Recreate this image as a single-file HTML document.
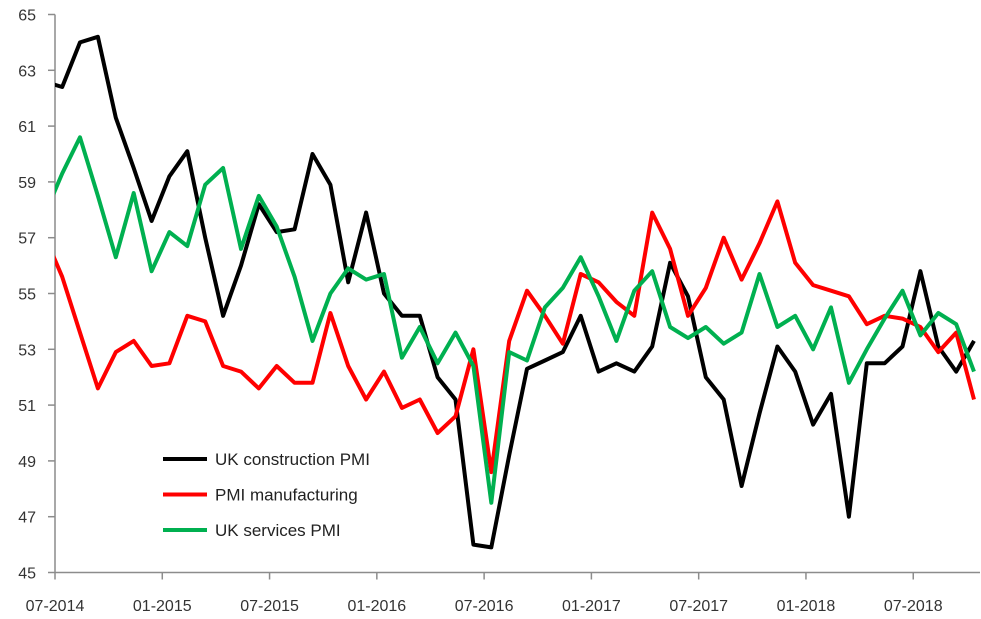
<!DOCTYPE html>
<html><head><meta charset="utf-8"><style>
html,body{margin:0;padding:0;background:#fff;}
svg{display:block;font-family:"Liberation Sans",sans-serif;}
</style></head><body>
<svg id="chart" width="981" height="619" viewBox="0 0 981 619" xmlns="http://www.w3.org/2000/svg">
<defs><clipPath id="plotclip"><rect x="55" y="0" width="926" height="619"/></clipPath></defs>
<g id="axes"></g>
<g id="series" clip-path="url(#plotclip)"></g>
<g id="legend"></g>
</svg>
<script>
// month index 0 = Jul-2014 (index -1 = Jun-2014)
const startMonth = -1;
const construction = [62.6,62.4,64.0,64.2,61.3,59.5,57.6,59.2,60.1,57.0,54.2,56.0,58.2,57.2,57.3,60.0,58.9,55.4,57.9,55.0,54.2,54.2,52.0,51.2,46.0,45.9,49.2,52.3,52.6,52.9,54.2,52.2,52.5,52.2,53.1,56.1,54.9,52.0,51.2,48.1,50.7,53.1,52.2,50.3,51.4,47.0,52.5,52.5,53.1,55.8,53.1,52.2,53.3];
const manufacturing = [57.1,55.6,53.6,51.6,52.9,53.3,52.4,52.5,54.2,54.0,52.4,52.2,51.6,52.4,51.8,51.8,54.3,52.4,51.2,52.2,50.9,51.2,50.0,50.6,53.0,48.6,53.3,55.1,54.2,53.2,55.7,55.4,54.7,54.2,57.9,56.6,54.2,55.2,57.0,55.5,56.8,58.3,56.1,55.3,55.1,54.9,53.9,54.2,54.1,53.8,52.9,53.6,51.2];
const services = [57.8,59.3,60.6,58.5,56.3,58.6,55.8,57.2,56.7,58.9,59.5,56.6,58.5,57.4,55.6,53.3,55.0,55.9,55.5,55.7,52.7,53.8,52.5,53.6,52.4,47.5,52.9,52.6,54.5,55.2,56.3,54.9,53.3,55.1,55.8,53.8,53.4,53.8,53.2,53.6,55.7,53.8,54.2,53.0,54.5,51.8,53.0,54.1,55.1,53.5,54.3,53.9,52.2];
const yTicks = [45,47,49,51,53,55,57,59,61,63,65];
const xTickMonths = [0,6,12,18,24,30,36,42,48];
const xTickLabels = ["07-2014","01-2015","07-2015","01-2016","07-2016","01-2017","07-2017","01-2018","07-2018"];
const seriesNames = ["UK construction PMI","PMI manufacturing","UK services PMI"];
const seriesColors = ["#000000","#ff0000","#00b050"];

const NS="http://www.w3.org/2000/svg";
const X0=55, MW=17.88, Y0=572.5, YU=27.9;
function xMonthStart(m){return X0+MW*m;}
function xPoint(m){return X0+MW*(m+0.4);}
function yVal(v){return Y0-(v-45)*YU;}
function mk(tag,attrs,parent){const e=document.createElementNS(NS,tag);for(const k in attrs)e.setAttribute(k,attrs[k]);parent.appendChild(e);return e;}

const axes=document.getElementById('axes');
const ya=mk('line',{x1:X0,y1:yVal(45),x2:X0,y2:yVal(65),stroke:'#8c8c8c','stroke-width':1.5},axes);


const xa=mk('line',{x1:X0,y1:Y0,x2:980,y2:Y0,stroke:'#8c8c8c','stroke-width':1.5},axes);


yTicks.forEach(v=>{
  const y=yVal(v);
  const t=mk('line',{x1:X0-7,y1:y,x2:X0,y2:y,stroke:'#8c8c8c','stroke-width':1.5},axes);
  
  
  const l=mk('text',{x:X0-19,y:y+6,'text-anchor':'end','font-size':16,fill:'#333'},axes);
  l.textContent=v;
  
  
});
xTickMonths.forEach((m,i)=>{
  const x=xMonthStart(m);
  const t=mk('line',{x1:x,y1:Y0,x2:x,y2:Y0+7,stroke:'#8c8c8c','stroke-width':1.5},axes);
  
  
  const l=mk('text',{x:x,y:611,'text-anchor':'middle','font-size':16,fill:'#333'},axes);
  l.textContent=xTickLabels[i];
  
  
});

const sg=document.getElementById('series');
[construction,manufacturing,services].forEach((arr,si)=>{
  const pts=arr.map((v,i)=>xPoint(startMonth+i).toFixed(1)+','+yVal(v).toFixed(1)).join(' ');
  const p=mk('polyline',{points:pts,fill:'none',stroke:seriesColors[si],'stroke-width':4,'stroke-linejoin':'round'},sg);
  
  
});

const lg=document.getElementById('legend');
seriesNames.forEach((n,i)=>{
  const y=459+35.5*i;
  const l=mk('line',{x1:163,y1:y,x2:207,y2:y,stroke:seriesColors[i],'stroke-width':4},lg);
  
  
  const t=mk('text',{x:215,y:y+6,'font-size':17,fill:'#222'},lg);
  t.textContent=n;
  
  
});
</script>
</body></html>
